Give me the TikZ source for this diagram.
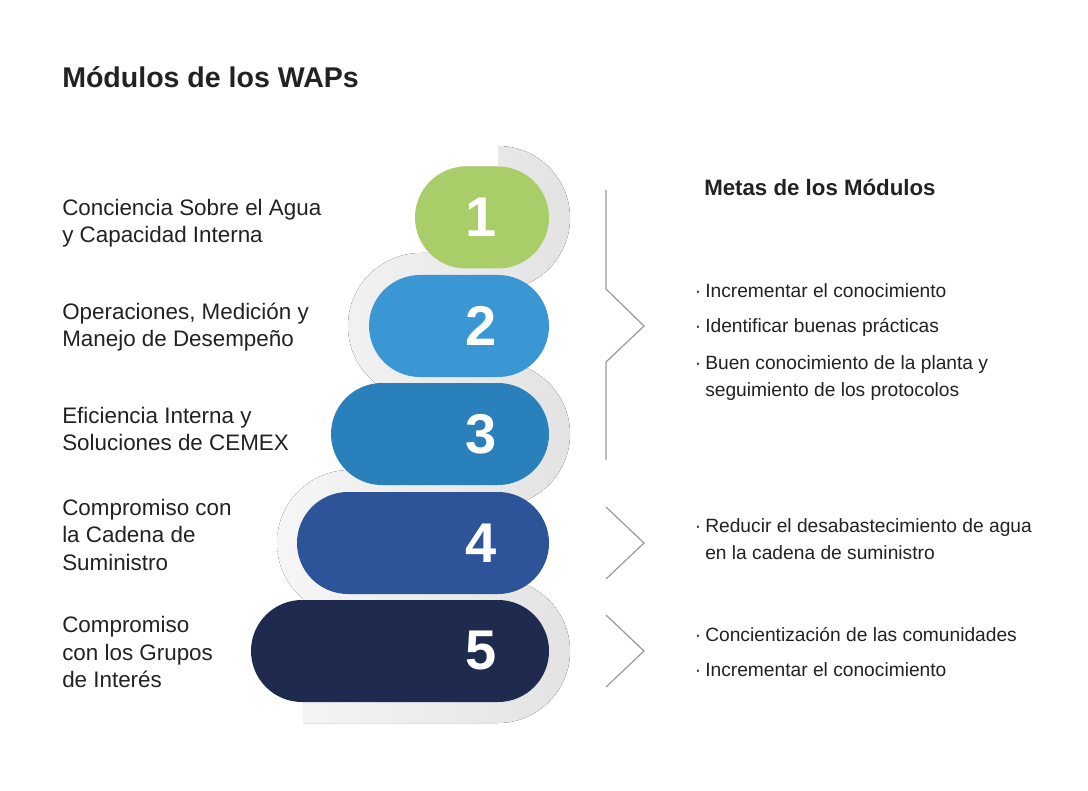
\documentclass[tikz,border=0pt]{standalone}
\usepackage{fontspec}
\setmainfont{Liberation Sans}
\usetikzlibrary{shapes.misc}
\definecolor{cgreen}{HTML}{A9CD69}
\definecolor{cblue2}{HTML}{3B97D4}
\definecolor{cblue3}{HTML}{2A80BA}
\definecolor{cblue4}{HTML}{2D5398}
\definecolor{cnavy}{HTML}{1F2A4F}
\definecolor{cgrayA}{HTML}{F6F6F6}
\definecolor{cgrayB}{HTML}{E3E3E3}
\definecolor{ctext}{HTML}{222222}
\definecolor{cline}{HTML}{9A9A9A}
\tikzset{
  pill/.style={rounded rectangle, inner sep=0pt, minimum height=76.5pt},
  numtxt/.style={text=white, font=\fontsize{42}{42}\selectfont\bfseries, inner sep=0pt},
  lbl/.style={text=ctext, anchor=base west, inner sep=0pt, font=\fontsize{16.8}{20}\selectfont},
  goal/.style={text=ctext, anchor=base west, inner sep=0pt, font=\fontsize{14.4}{18}\selectfont},
  shade/.style={left color=cgrayA, right color=cgrayB},
  chev/.style={draw=cline, line width=0.9pt, line join=miter},
}
\newcommand{\bul}{\llap{·\hspace{3pt}}}
\begin{document}
\begin{tikzpicture}[x=0.75pt,y=-0.75pt]
\useasboundingbox[fill=white] (0,0) rectangle (1088,791);
% title
\node[text=ctext, anchor=base west, inner sep=0pt, font=\fontsize{21.4}{24}\selectfont\bfseries] (title) at (62,88) {Módulos de los WAPs};
% gray shadows (one union path, all clockwise)
\fill[shade, nonzero rule]
  (498,146) arc[start angle=90, end angle=-90, radius=54pt] -- (460,290) -- (460,167) -- (498,167) -- cycle
  (498,399) -- (421,399) arc[start angle=270, end angle=90, radius=54.75pt] -- (498,253) -- cycle
  (420,362) -- (498,362) arc[start angle=90, end angle=-90, radius=54pt] -- (420,506) -- cycle
  (498,616) -- (350,616) arc[start angle=270, end angle=90, radius=54.75pt] -- (498,470) -- cycle
  (303,579) -- (498,579) arc[start angle=90, end angle=-90, radius=54pt] -- (303,723) -- cycle;
% pills
\node[pill, fill=cnavy,  minimum width=223.5pt] (p5) at (400,651) {};
\node[pill, fill=cblue4, minimum width=189pt]   (p4) at (423,543) {};
\node[pill, fill=cblue3, minimum width=163.5pt] (p3) at (440,434) {};
\node[pill, fill=cblue2, minimum width=135pt]   (p2) at (459,326) {};
\node[pill, fill=cgreen, minimum width=100.5pt] (p1) at (482,217.5) {};
% numbers
\node[numtxt] (n1) at (481,217.5) {1};
\node[numtxt] (n2) at (481,326) {2};
\node[numtxt] (n3) at (481,434) {3};
\node[numtxt] (n4) at (481,543) {4};
\node[numtxt] (n5) at (481,651) {5};
% left labels
\node[lbl] (l1a) at (62,216) {Conciencia Sobre el Agua};
\node[lbl] (l1b) at (62,243) {y Capacidad Interna};
\node[lbl] (l2a) at (62,320) {Operaciones, Medición y};
\node[lbl] (l2b) at (62,347) {Manejo de Desempeño};
\node[lbl] (l3a) at (62,423) {Eficiencia Interna y};
\node[lbl] (l3b) at (62,450) {Soluciones de CEMEX};
\node[lbl] (l4a) at (62,515) {Compromiso con};
\node[lbl] (l4b) at (62,542) {la Cadena de};
\node[lbl] (l4c) at (62,570) {Suministro};
\node[lbl] (l5a) at (62,632) {Compromiso};
\node[lbl] (l5b) at (62,660) {con los Grupos};
\node[lbl] (l5c) at (62,687) {de Interés};
% right heading
\node[text=ctext, anchor=base west, inner sep=0pt, font=\fontsize{16.7}{20}\selectfont\bfseries] (metas) at (704,196) {Metas de los Módulos};
% brackets
\coordinate (a1) at (606,190);
\coordinate (a2) at (606,289);
\coordinate (a3) at (644,326);
\coordinate (a4) at (606,362);
\coordinate (a5) at (606,460);
\draw[chev] (a1) -- (a2) -- (a3) -- (a4) -- (a5);
\coordinate (b1) at (606,507);
\coordinate (b2) at (644,543);
\coordinate (b3) at (606,579);
\draw[chev] (b1) -- (b2) -- (b3);
\coordinate (c1) at (606,615);
\coordinate (c2) at (644,651);
\coordinate (c3) at (606,687);
\draw[chev] (c1) -- (c2) -- (c3);
% goals
\node[goal] (g1) at (705,298) {\bul Incrementar el conocimiento};
\node[goal] (g2) at (705,333) {\bul Identificar buenas prácticas};
\node[goal] (g3) at (705,369) {\bul Buen conocimiento de la planta y};
\node[goal] (g3b) at (705,396) {seguimiento de los protocolos};
\node[goal] (g4) at (705,532) {\bul Reducir el desabastecimiento de agua};
\node[goal] (g4b) at (705,559) {en la cadena de suministro};
\node[goal] (g5) at (705,641) {\bul Concientización de las comunidades};
\node[goal] (g6) at (705,676) {\bul Incrementar el conocimiento};
\end{tikzpicture}
\end{document}
